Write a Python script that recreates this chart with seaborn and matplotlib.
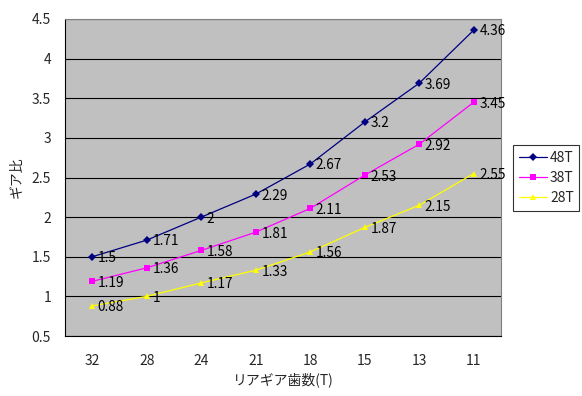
import matplotlib
matplotlib.use("Agg")
import matplotlib.pyplot as plt
import seaborn as sns
import pandas as pd

categories = ["32", "28", "24", "21", "18", "15", "13", "11"]
s48 = [1.5, 1.71, 2, 2.29, 2.67, 3.2, 3.69, 4.36]
s38 = [1.19, 1.36, 1.58, 1.81, 2.11, 2.53, 2.92, 3.45]
s28 = [0.88, 1, 1.17, 1.33, 1.56, 1.87, 2.15, 2.55]
series_names = ["48T", "38T", "28T"]
colors = {"48T": "#000080", "38T": "#FF00FF", "28T": "#FFFF00"}
markers = {"48T": "D", "38T": "s", "28T": "^"}
msizes = {"48T": 4, "38T": 5, "28T": 5}

sns.set_style("white")
plt.rcParams['font.family'] = ['Noto Sans CJK JP', 'DejaVu Sans']

rows = []
for name, vals in zip(series_names, [s48, s38, s28]):
    for i, v in enumerate(vals):
        rows.append({"pos": i, "cat": categories[i], "value": v, "series": name})
df = pd.DataFrame(rows)

fig = plt.figure(figsize=(5.82, 3.96), dpi=100)
ax = fig.add_axes([65/582, 1-336/396, 436/582, 317/396])
ax.set_facecolor("#C0C0C0")

sns.lineplot(data=df, x="pos", y="value", hue="series", style="series",
             palette=colors, markers=markers, dashes=False, ax=ax,
             linewidth=0.9, legend=False, markeredgewidth=0)
for line, name in zip(ax.lines, series_names):
    line.set_markersize(msizes[name])

for name, vals in zip(series_names, [s48, s38, s28]):
    for i, v in enumerate(vals):
        ax.annotate(f"{v:g}", (i, v), xytext=(4, -1), textcoords="offset points",
                    va="center", ha="left", fontsize=9.8, color="black")

ax.set_xlim(-0.5, 7.5)
ax.set_ylim(0.5, 4.5)
ax.set_yticks([0.5, 1, 1.5, 2, 2.5, 3, 3.5, 4, 4.5])
ax.set_yticklabels(["0.5", "1", "1.5", "2", "2.5", "3", "3.5", "4", "4.5"])
ax.set_xticks(range(len(categories)))
ax.set_xticklabels(categories)
ax.set_xticks([i + 0.5 for i in range(len(categories) - 1)], minor=True)
ax.tick_params(axis="x", which="major", length=0, pad=13, labelsize=10)
ax.tick_params(axis="x", which="minor", direction="in", length=4, width=0.8, color="black")
ax.tick_params(axis="y", length=0, pad=10, labelsize=10)
ax.yaxis.grid(True, color="black", linewidth=0.8)
ax.set_axisbelow(True)

for s in ["top", "right"]:
    ax.spines[s].set_color("#808080")
    ax.spines[s].set_linewidth(0.8)
for s in ["bottom", "left"]:
    ax.spines[s].set_color("black")
    ax.spines[s].set_linewidth(0.8)

ax.set_xlabel("リアギア歯数(T)", fontsize=10, labelpad=3)
ax.set_ylabel("ギア比", fontsize=10, labelpad=6)

from matplotlib.lines import Line2D
handles = [Line2D([], [], color=colors[n], marker=markers[n], markersize=msizes[n],
                  markeredgewidth=0, linewidth=0.9) for n in series_names]
leg = ax.legend(handles, series_names, loc="upper left", bbox_to_anchor=(1.028, 0.6025),
                frameon=True, fancybox=False, fontsize=10, borderpad=0.4,
                handlelength=2.0, handletextpad=0.25, labelspacing=0.45, borderaxespad=0)
leg.get_frame().set_edgecolor("black")
leg.get_frame().set_linewidth(0.8)

fig.savefig("out.png", dpi=100)
